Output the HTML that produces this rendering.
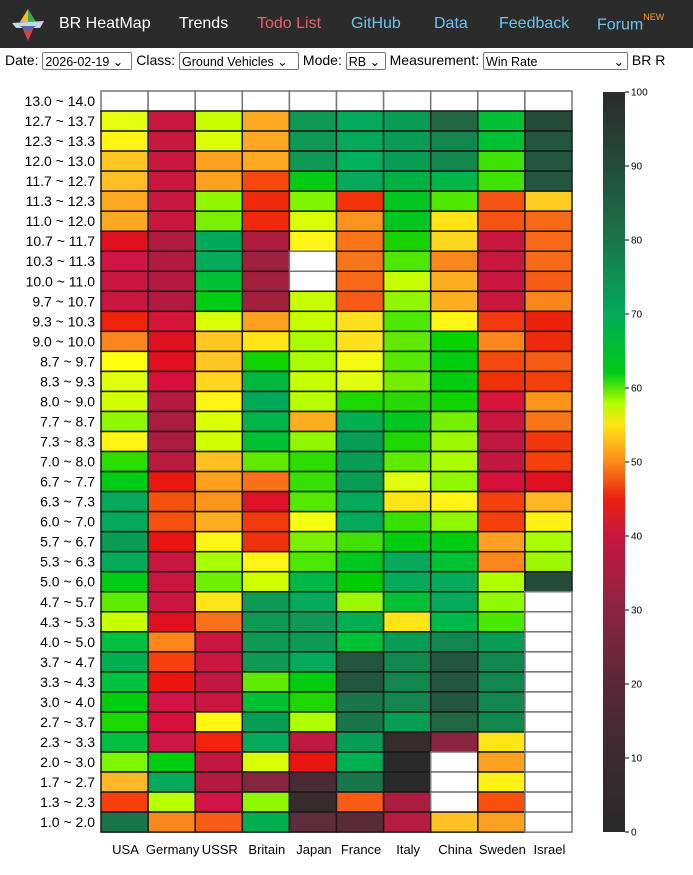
<!DOCTYPE html>
<html><head><meta charset="utf-8"><style>
body{margin:0;width:693px;height:875px;overflow:hidden;background:#fff;font-family:"Liberation Sans",sans-serif;}
.nav{position:absolute;left:0;top:0;width:693px;height:48px;background:#2b2b2b;}
.nav span{position:absolute;top:15px;font-size:16px;color:#fff;white-space:nowrap}
.ctl{position:absolute;top:52px;left:5px;font-size:14px;white-space:nowrap;color:#000}
.sel{display:inline-block;border:1px solid #767676;border-radius:2px;padding:0 2px;font-size:12.5px;height:18px;line-height:18px;vertical-align:middle;box-sizing:border-box;position:relative}
</style></head><body>
<div class="nav">
<svg style="position:absolute;left:10px;top:8px" width="36" height="34" viewBox="0 0 36 34"><polygon points="18,1 26,14 18,33 10,14" fill="#e04040"/><polygon points="18,1 26,14 18,14" fill="#3aa84a"/><polygon points="18,1 10,14 18,14" fill="#f0c020"/><polygon points="2,15 34,13 30,20 6,20" fill="#c8d4e8"/><polygon points="10,18 26,18 18,24" fill="#4a6aa8"/></svg>
<span style="left:59px">BR HeatMap</span>
<span style="left:179px">Trends</span>
<span style="left:257px;color:#e8606e">Todo List</span>
<span style="left:351px;color:#6cc4ee">GitHub</span>
<span style="left:434px;color:#6cc4ee">Data</span>
<span style="left:499px;color:#6cc4ee">Feedback</span>
<span style="left:597px;color:#6cc4ee">Forum<sup style="font-size:9px;color:#f0a030;position:relative;top:-3px">NEW</sup></span>
</div>
<div class="ctl">Date: <span class="sel" style="width:90px">2026-02-19 ⌄</span> Class: <span class="sel" style="width:120px">Ground Vehicles ⌄</span> Mode: <span class="sel" style="width:40px">RB ⌄</span> Measurement: <span class="sel" style="width:145px">Win Rate<span style="position:absolute;right:3px">⌄</span></span> BR R</div>
<svg id="c" style="position:absolute;left:0;top:0" width="693" height="875"></svg>
<script>
var rows=[
"fff fff fff fff fff fff fff fff fff fff",
"e5ff0f c8163f c8ff00 fdaa22 0e9a55 04aa5a 079d55 216744 00c033 254b3b",
"fff515 c8163f d9ff05 fdaa22 0e9a55 04aa5a 079d55 11864d 00c033 235640",
"ffc623 c8163f fda020 fdaa22 0e9a55 00b05a 079d55 11864d 3ee200 235640",
"ffbe25 c8163f fda020 f7480e 00cc16 04aa5a 00b040 00b548 3ee200 235640",
"fda823 c8163f 8ff800 ef290c 80f500 f1320a 00c622 4ce800 f55313 ffcc22",
"fda823 c8163f 78f000 ef290c d8ff06 fb941b 00c622 ffe518 f55313 f86a18",
"e01020 b01b40 00a85a b01b40 fff518 f87519 18d300 fdd61e c8163f f86a18",
"d01544 b41a40 04aa5a 9e1f3e fff f87519 4ce800 fb861b c8163f f86a18",
"c8163f b41a40 00c033 a31f3e fff f86a18 c5ff00 fdae20 c8163f f65c15",
"c8163f b41a40 00cc16 a31f3e c5ff00 f65c15 8ff800 fdae20 c8163f fb861b",
"ef230c d5143a d9ff05 fda020 c5ff00 ffe020 4ce800 fff515 f23a0e ed220c",
"fb861b df1020 ffc623 ffe518 aafc00 ffe020 60ea00 08d400 fb861b ef290c",
"ffff10 e01020 ffc623 10d400 aafc00 f5fb10 55e800 00cc10 f5480e f65c15",
"e0ff10 d5103a ffd520 00b840 c5ff00 e0ff10 75ee00 00cc10 f0300c f5400e",
"d0ff00 b41a40 fff515 00a85a b8ff00 1cd800 28d800 10d400 d8143a fb941b",
"8ff800 aa1c40 d9ff05 00b548 fdae20 00b050 00c622 75f000 c8163f f87519",
"fff515 aa1c40 d0ff00 00c033 8ff800 079d55 1cd800 9cf800 c0183f f2360e",
"2edd00 b81a40 ffc023 60ea00 2edd00 079d55 60ea00 aafc00 c0183f f5400e",
"00cc16 e81a10 fda020 f87019 38e000 079d55 e0ff10 8ff800 d5103a df1020",
"04aa5a f5500e fb941b df1028 55e800 04aa5a ffe518 fff515 f5400e fdb622",
"04aa5a f5500e fdae20 f23a0e f5ff10 04aa5a 38e000 8ff800 f5400e fff015",
"079d55 e81510 fff515 f0300c 78f000 40e000 00cc10 00cc10 fba020 aafc00",
"04aa5a c8163f aafc00 fff515 4ce800 00c622 04aa5a 00c033 fb861b 9cf800",
"00cc16 c8163f 6cf000 d0ff00 00b848 00cc00 04aa5a 04aa5a b0ff00 254b3b",
"60ea00 c8163f ffe518 0e9a55 04aa5a 9cf800 00c033 04aa5a 90f800 fff",
"c5ff00 df1020 f87019 0e9a55 0e9a55 00b050 ffe518 00b848 48e800 fff",
"00c040 fb861b c8163f 0e9a55 0e9a55 00c033 079d55 11864d 079d55 fff",
"00b050 f5400e c8163f 0e9a55 04aa5a 235640 11864d 235640 11864d fff",
"00c040 e81510 c0183f 60ea00 00cc10 235640 11864d 235640 11864d fff",
"00cc10 d01544 c8163f 00c033 1cd800 19754a 11864d 235640 11864d fff",
"1cd800 d5103a fff515 079d55 b0ff00 19754a 079d55 216744 11864d fff",
"00c040 d01544 ef230c 04aa5a c0183f 079d55 372b2e 8a2440 ffe518 fff",
"80f500 00cc10 c0183f d9ff05 e81510 00b050 2a2a2a fff fba020 fff",
"ffb825 04aa5a b41a40 852540 4a2a35 19754a 2a2a2a fff fff015 fff",
"f5400e b8ff00 d01544 8ff800 372b2e f65c15 aa1c40 fff f5500e fff",
"19754a fb861b f65c15 00b050 5e2c3b 5a2a38 b81a40 ffc023 fba020 fff"];
var labels=["13.0 ~ 14.0","12.7 ~ 13.7","12.3 ~ 13.3","12.0 ~ 13.0","11.7 ~ 12.7","11.3 ~ 12.3","11.0 ~ 12.0","10.7 ~ 11.7","10.3 ~ 11.3","10.0 ~ 11.0","9.7 ~ 10.7","9.3 ~ 10.3","9.0 ~ 10.0","8.7 ~ 9.7","8.3 ~ 9.3","8.0 ~ 9.0","7.7 ~ 8.7","7.3 ~ 8.3","7.0 ~ 8.0","6.7 ~ 7.7","6.3 ~ 7.3","6.0 ~ 7.0","5.7 ~ 6.7","5.3 ~ 6.3","5.0 ~ 6.0","4.7 ~ 5.7","4.3 ~ 5.3","4.0 ~ 5.0","3.7 ~ 4.7","3.3 ~ 4.3","3.0 ~ 4.0","2.7 ~ 3.7","2.3 ~ 3.3","2.0 ~ 3.0","1.7 ~ 2.7","1.3 ~ 2.3","1.0 ~ 2.0"];
var cols=["USA","Germany","USSR","Britain","Japan","France","Italy","China","Sweden","Israel"];
var x0=101,y0=91,cw=47.1,rh=20.03,s="";
for(var r=0;r<37;r++){var cs=rows[r].split(" ");for(var c=0;c<10;c++){var col=cs[c];var w=col=="fff";
s+='<rect x="'+(x0+c*cw)+'" y="'+(y0+r*rh)+'" width="'+cw+'" height="'+rh+'" fill="#'+col+'" stroke="'+(w?'#777':'#1a1a1a')+'" stroke-width="1.5"/>';}
s+='<text x="95" y="'+(y0+r*rh+15)+'" font-size="14" text-anchor="end" font-family="Liberation Sans">'+labels[r]+'</text>';}
for(var c=0;c<10;c++)s+='<text x="'+(x0+c*cw+cw/2+1)+'" y="854" font-size="13" text-anchor="middle" font-family="Liberation Sans">'+cols[c]+'</text>';
s+='<defs><linearGradient id="g" x1="0" y1="1" x2="0" y2="0"><stop offset="0" stop-color="#2a2a2a"/><stop offset=".1" stop-color="#3a2a30"/><stop offset=".2" stop-color="#5a2838"/><stop offset=".3" stop-color="#8a2440"/><stop offset=".4" stop-color="#c8163f"/><stop offset=".45" stop-color="#ec2010"/><stop offset=".5" stop-color="#fb8a1b"/><stop offset=".55" stop-color="#ffe518"/><stop offset=".58" stop-color="#b0ff00"/><stop offset=".62" stop-color="#00cc16"/><stop offset=".7" stop-color="#04aa5a"/><stop offset=".8" stop-color="#19754a"/><stop offset=".9" stop-color="#254b3b"/><stop offset="1" stop-color="#2a2a2a"/></linearGradient></defs>';
s+='<rect x="603" y="92" width="22" height="740" fill="url(#g)"/>';
for(var v=0;v<=100;v+=10){var y=832-v*7.4;s+='<line x1="625" x2="629" y1="'+y+'" y2="'+y+'" stroke="#000"/><text x="631" y="'+(y+3.5)+'" font-size="10" font-family="Liberation Sans">'+v+'</text>';}
document.getElementById("c").innerHTML=s;
</script>
</body></html>
